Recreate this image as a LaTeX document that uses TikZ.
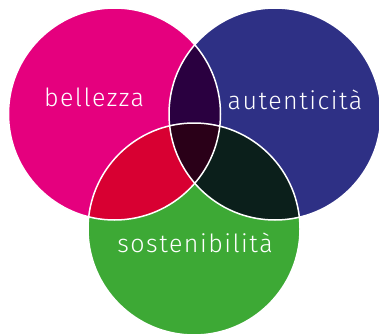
\documentclass[tikz,border=0pt]{standalone}
\usepackage{fontspec}
\setmainfont{Fira Sans Light}[LetterSpace = 6]
\definecolor{bellcol}{HTML}{E5007E}
\definecolor{autcol}{HTML}{2E3085}
\definecolor{sostcol}{HTML}{3DA935}
\definecolor{bacol}{HTML}{2A0040}
\definecolor{bscol}{HTML}{D80032}
\definecolor{ascol}{HTML}{0B1F1B}
\definecolor{allcol}{HTML}{2A0018}
\tikzset{word/.style = {white, anchor = base, font = \fontsize{25}{30}\selectfont}}
\begin{document}
\begin{tikzpicture}[x = 1pt, y = -1pt]
\useasboundingbox (0,0) rectangle (379,334);
\def\rad{106}
\coordinate (m) at (114.5,114);
\coordinate (b) at (275,114);
\coordinate (g) at (194,229);
\fill[bellcol] (m) circle [radius = \rad];
\fill[autcol] (b) circle [radius = \rad];
\fill[sostcol] (g) circle [radius = \rad];
\begin{scope}
\clip (m) circle [radius = \rad];
\fill[bacol] (b) circle [radius = \rad];
\fill[bscol] (g) circle [radius = \rad];
\end{scope}
\begin{scope}
\clip (b) circle [radius = \rad];
\fill[ascol] (g) circle [radius = \rad];
\clip (m) circle [radius = \rad];
\fill[allcol] (g) circle [radius = \rad];
\end{scope}
\draw[white, line width = 1.5pt] (m) circle [radius = \rad];
\draw[white, line width = 1.5pt] (b) circle [radius = \rad];
\draw[white, line width = 1.5pt] (g) circle [radius = \rad];
\node[word] (bell) at (94,106) {bellezza};
\node[word] (aut) at (295,109) {autenticità};
\node[word] (sost) at (195,252) {sostenibilità};
\end{tikzpicture}
\end{document}
